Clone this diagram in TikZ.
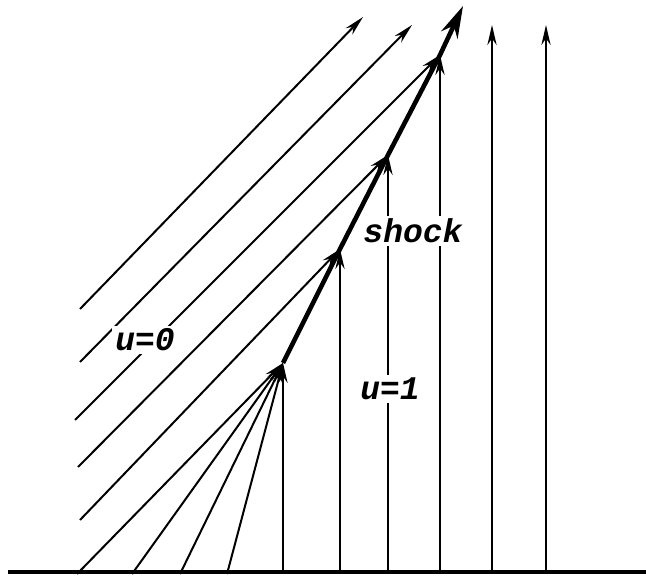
\documentclass[tikz,border=0pt]{standalone}
\usepackage{fontspec}
\setmonofont{Liberation Mono}
\usetikzlibrary{arrows.meta,positioning}

\begin{document}
\begin{tikzpicture}[x=0.5pt,y=-0.5pt,
  charline/.style={line width=1pt,-{Stealth[length=10pt,width=4.6pt]}},
  shockline/.style={line width=2.3pt,-{Stealth[length=16pt,width=9pt]}},
  lbl/.style={fill=white,inner sep=1.5pt,font=\ttfamily\bfseries\itshape\fontsize{16.5}{16.5}\selectfont}]
  \useasboundingbox (0,0) rectangle (646,576);
  % shock points
  \coordinate (s0) at (283,363);
  \coordinate (s1) at (340,249);
  \coordinate (s2) at (388,155);
  \coordinate (s3) at (440,55);
  \coordinate (stip) at (463,6);
  % axis
  \coordinate (axl) at (8,572);
  \coordinate (axr) at (646,572);
  \draw[line width=1.8pt] (axl) -- (axr);
  % fan into the first shock point
  \foreach \x [count=\i] in {77,132,180,227} {
    \coordinate (f\i) at (\x,574);
    \draw[charline] (f\i) -- (s0);
  }
  % u=0 characteristics
  \coordinate (ce) at (80,520);
  \coordinate (cd) at (78,467);
  \coordinate (cc) at (75,420);
  \coordinate (cb) at (80,362);
  \coordinate (ca) at (80,309);
  \coordinate (cbe) at (412,25);
  \coordinate (cae) at (363,17);
  \draw[charline] (ce) -- (s1);
  \draw[charline] (cd) -- (s2);
  \draw[charline] (cc) -- (s3);
  \draw[charline] (cb) -- (cbe);
  \draw[charline] (ca) -- (cae);
  % u=1 characteristics
  \foreach \x/\t in {283/s0,340/s1,388/s2,440/s3} {
    \coordinate (v\x) at (\x,572);
    \draw[charline] (v\x) -- (\t);
  }
  \foreach \x in {492,546} {
    \coordinate (v\x) at (\x,572);
    \coordinate (w\x) at (\x,25);
    \draw[charline] (v\x) -- (w\x);
  }
  % shock
  \draw[shockline] (s0) -- (s1) -- (s2) -- (s3) -- (stip);
  % labels
  \node[lbl] (lbla) at (145,340) {u=0};
  \node[lbl] (lblshock) at (413,231) {shock};
  \node[lbl] (lblb) at (390,389) {u=1};
\end{tikzpicture}
\end{document}
